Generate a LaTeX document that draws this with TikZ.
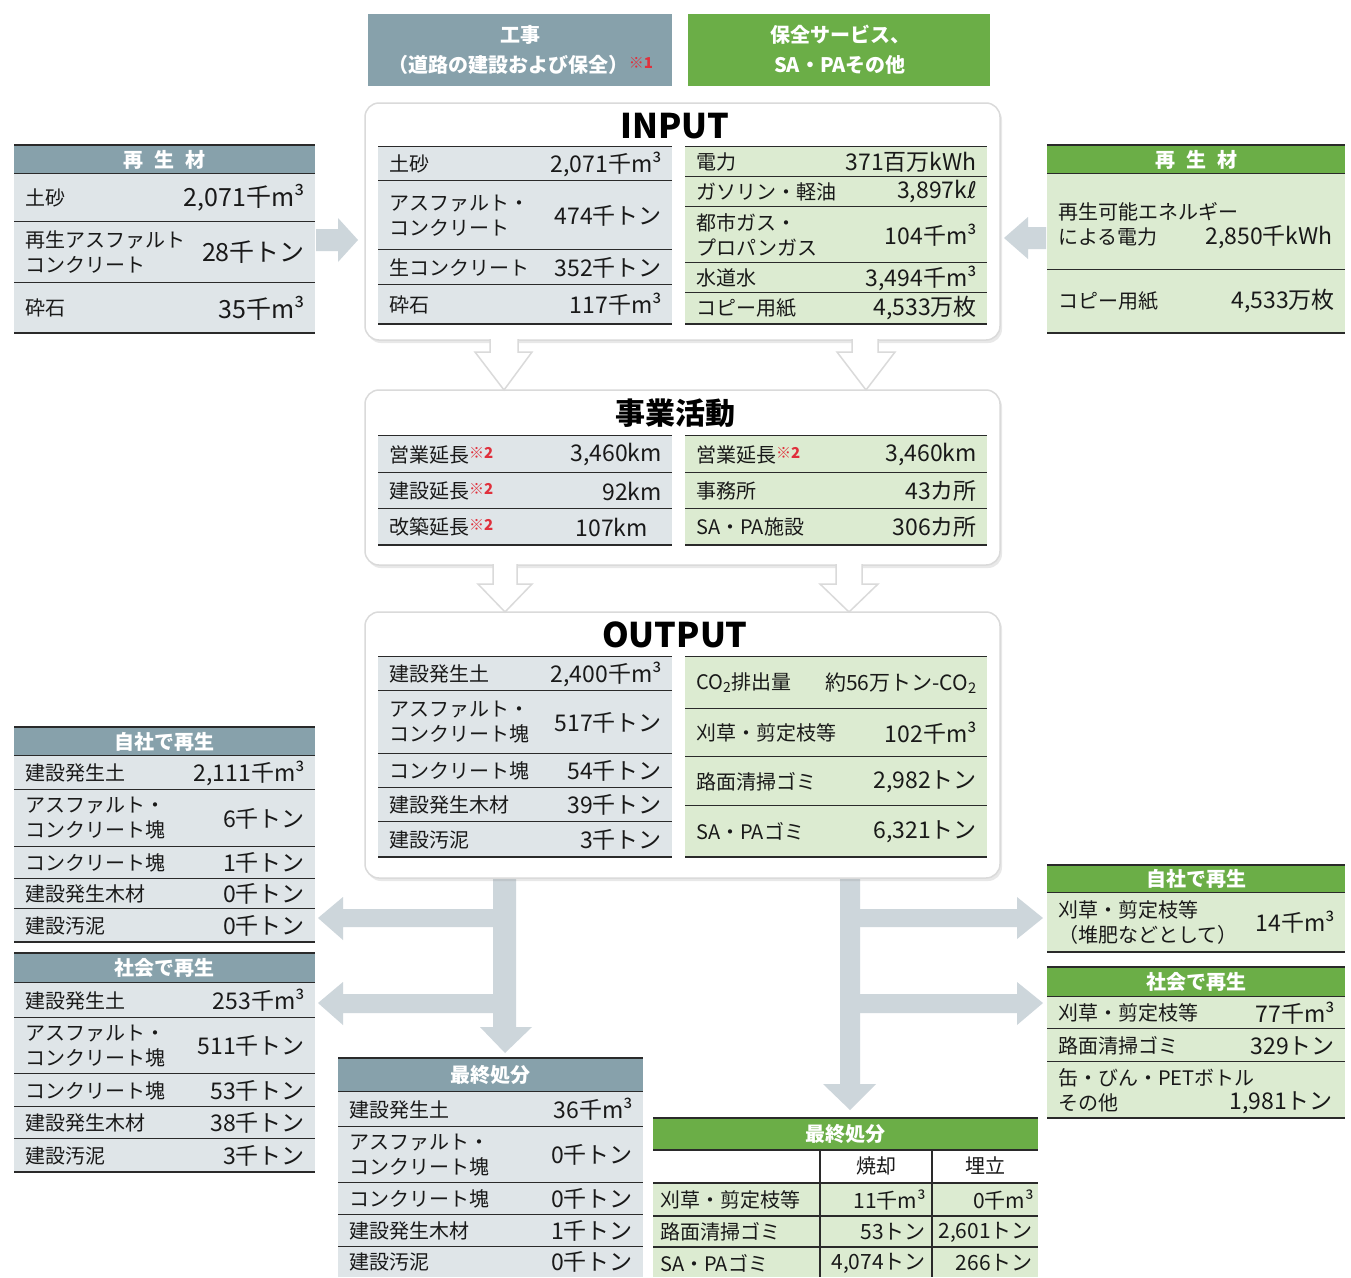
\documentclass[tikz,border=0pt]{standalone}
\usepackage{fontspec}
\setmainfont{Noto Sans CJK JP}
\newfontfamily\dvs{DejaVu Sans}
\usetikzlibrary{shadows}

\definecolor{hdrgray}{HTML}{87A1AB}
\definecolor{hdrgreen}{HTML}{6BAE47}
\definecolor{rowgray}{HTML}{DFE5E8}
\definecolor{rowgreen}{HTML}{DCEBD1}
\definecolor{arrowgray}{HTML}{CDD6DB}
\definecolor{rulec}{HTML}{2A2A2A}
\definecolor{notered}{HTML}{E0303C}
\definecolor{boxline}{HTML}{DADADA}

\tikzset{
 rule/.style={draw=rulec, line width=1.8pt},
 toprule/.style={draw=rulec, line width=2.6pt},
 lab/.style={inner sep=0pt, font=\fontsize{20}{25}\selectfont, align=left, text=black!90},
 val/.style={inner sep=0pt, font=\fontsize{23}{26}\selectfont, text=black!90},
 hdrtext/.style={inner sep=0pt, text=white, font=\fontsize{20}{24}\selectfont\bfseries},
 toptext/.style={inner sep=0pt, text=white, font=\fontsize{20}{24}\selectfont\bfseries},
 panel/.style={draw=boxline, line width=1.5pt, fill=white, rounded corners=14pt,
   drop shadow={opacity=0.18, shadow xshift=2pt, shadow yshift=-3pt}},
 title/.style={inner sep=0pt, font=\fontsize{34}{38}\selectfont\bfseries},
 blockarrow/.style={fill=arrowgray},
 hollowfill/.style={fill=white},
 hollowline/.style={draw=boxline, line width=1.5pt}
}

% name, x1, x2, y1, y2, fill, label, value
\newcommand\trow[8]{%
  \fill[#6] (#2,#4) rectangle (#3,#5);
  \draw[rule] (#2,#5) -- (#3,#5);
  \node[lab, anchor=west] (#1l) at ({#2+11},{(#4+#5)/2}) {#7};
  \node[val, anchor=east] (#1v) at ({#3-10},{(#4+#5)/2}) {#8};
}
% name, x1, x2, y1, y2, fill, text
\newcommand\hdr[7]{%
  \fill[#6] (#2,#4) rectangle (#3,#5);
  \draw[rule] (#2,#4) -- (#3,#4);
  \draw[rule] (#2,#5) -- (#3,#5);
  \node[hdrtext] (#1) at ({(#2+#3)/2},{(#4+#5)/2}) {#7};
}
\newcommand\nt[1]{\raisebox{4pt}{\color{notered}\fontsize{15}{15}\selectfont\bfseries ※#1}}
\newcommand\cub{m³}

\begin{document}
\begin{tikzpicture}[x=1pt,y=-1pt]
\useasboundingbox (0,0) rectangle (1351,1277);
\fill[white] (0,0) rectangle (1351,1277);

% ---------- gray block arrows ----------
\fill[blockarrow] (316,229) -- (338,229) -- (338,218) -- (358,240) -- (338,262) -- (338,251) -- (316,251) -- cycle;
\fill[blockarrow] (1046,227) -- (1028,227) -- (1028,217) -- (1004,238) -- (1028,259) -- (1028,249) -- (1046,249) -- cycle;

\fill[blockarrow] (493,870) -- (516,870) -- (516,1027) -- (532,1027) -- (505,1053) -- (480,1027) -- (493,1027) -- cycle;
\fill[blockarrow] (500,909) -- (343,909) -- (343,897) -- (318,918) -- (343,940) -- (343,927) -- (500,927) -- cycle;
\fill[blockarrow] (500,994) -- (343,994) -- (343,982) -- (318,1003) -- (343,1025) -- (343,1013) -- (500,1013) -- cycle;
\fill[blockarrow] (840,870) -- (860,870) -- (860,1084) -- (876,1084) -- (850,1110) -- (823,1084) -- (840,1084) -- cycle;
\fill[blockarrow] (850,909) -- (1017,909) -- (1017,897) -- (1043,918) -- (1017,939) -- (1017,927) -- (850,927) -- cycle;
\fill[blockarrow] (850,994) -- (1017,994) -- (1017,982) -- (1043,1003) -- (1017,1025) -- (1017,1013) -- (850,1013) -- cycle;

% ---------- top headers ----------
\fill[hdrgray] (368,14) rectangle (672,86);
\node[toptext] (kouji1) at (520,35) {工事};
\node[toptext] (kouji2) at (521,65) {（道路の建設および保全）\nt{1}};
\fill[hdrgreen] (688,14) rectangle (990,86);
\node[toptext] (hozen1) at (840,35) {保全サービス、};
\node[toptext] (hozen2) at (840,65) {SA・PAその他};

% ---------- panels ----------
\path[panel] (365,103) rectangle (1000,340);
\path[panel] (365,390) rectangle (1000,565);
\path[panel] (365,612) rectangle (1000,878);

% ---------- hollow arrows ----------
\fill[hollowfill] (490,330) -- (490,352) -- (475,352) -- (504,390) -- (532,352) -- (518,352) -- (518,330) -- cycle;
\draw[hollowline] (490,339) -- (490,352) -- (475,352) -- (504,390) -- (532,352) -- (518,352) -- (518,339);
\fill[hollowfill] (852,330) -- (852,352) -- (837,352) -- (866,390) -- (895,352) -- (878,352) -- (878,330) -- cycle;
\draw[hollowline] (852,339) -- (852,352) -- (837,352) -- (866,390) -- (895,352) -- (878,352) -- (878,339);
\fill[hollowfill] (493,555) -- (493,584) -- (478,584) -- (505,612) -- (532,584) -- (517,584) -- (517,555) -- cycle;
\draw[hollowline] (493,564) -- (493,584) -- (478,584) -- (505,612) -- (532,584) -- (517,584) -- (517,564);
\fill[hollowfill] (836,555) -- (836,584) -- (820,584) -- (849,612) -- (878,584) -- (862,584) -- (862,555) -- cycle;
\draw[hollowline] (836,564) -- (836,584) -- (820,584) -- (849,612) -- (878,584) -- (862,584) -- (862,564);

% ---------- INPUT ----------
\node[title] (inputT) at (675,126) {INPUT};
\draw[toprule] (378,147) -- (672,147);
\trow{ia}{378}{672}{147}{181}{rowgray}{土砂}{2,071千\cub}
\trow{ib}{378}{672}{181}{250}{rowgray}{アスファルト・\\コンクリート}{474千トン}
\trow{ic}{378}{672}{250}{285}{rowgray}{生コンクリート}{352千トン}
\trow{id}{378}{672}{285}{324}{rowgray}{砕石}{117千\cub}
\draw[toprule] (685,147) -- (987,147);
\trow{ja}{685}{987}{147}{177}{rowgreen}{電力}{371百万kWh}
\trow{jb}{685}{987}{177}{207}{rowgreen}{ガソリン・軽油}{3,897k{\dvs ℓ}}
\trow{jc}{685}{987}{207}{263}{rowgreen}{都市ガス・\\プロパンガス}{104千\cub}
\trow{jd}{685}{987}{263}{293}{rowgreen}{水道水}{3,494千\cub}
\trow{je}{685}{987}{293}{324}{rowgreen}{コピー用紙}{4,533万枚}

% ---------- left 再生材 ----------
\begin{scope}[val/.append style={font=\fontsize{25}{28}\selectfont}]
\hdr{lsH}{14}{315}{145}{174}{hdrgray}{再\hspace{11pt}生\hspace{11pt}材}
\trow{la}{14}{315}{174}{222}{rowgray}{土砂}{2,071千\cub}
\trow{lb}{14}{315}{222}{283}{rowgray}{再生アスファルト\\コンクリート}{28千トン}
\trow{lc}{14}{315}{283}{333}{rowgray}{砕石}{35千\cub}
\end{scope}

% ---------- right 再生材 ----------
\hdr{rsH}{1047}{1345}{145}{174}{hdrgreen}{再\hspace{11pt}生\hspace{11pt}材}
\fill[rowgreen] (1047,174) rectangle (1345,270);
\draw[rule] (1047,270) -- (1345,270);
\node[lab, anchor=west] (raL) at (1058,224) {再生可能エネルギー\\による電力};
\node[val, anchor=east] (raV) at (1333,237) {2,850千kWh};
\trow{rb}{1047}{1345}{270}{333}{rowgreen}{コピー用紙}{4,533万枚}

% ---------- 事業活動 ----------
\node[title, font=\fontsize{30}{34}\selectfont\bfseries] (bizT) at (675,413) {事業活動};
\draw[toprule] (378,436) -- (672,436);
\trow{ba}{378}{672}{436}{473}{rowgray}{営業延長\nt{2}}{3,460km}
\trow{bb}{378}{672}{473}{509}{rowgray}{建設延長\nt{2}}{92km}
\fill[rowgray] (378,509) rectangle (672,545);
\draw[rule] (378,545) -- (672,545);
\node[lab, anchor=west] (bcl) at (389,527) {改築延長\nt{2}};
\node[val, anchor=east] (bcv) at (648,527) {107km};
\draw[toprule] (685,436) -- (987,436);
\trow{ca}{685}{987}{436}{473}{rowgreen}{営業延長\nt{2}}{3,460km}
\trow{cb}{685}{987}{473}{509}{rowgreen}{事務所}{43カ所}
\trow{cc}{685}{987}{509}{545}{rowgreen}{SA・PA施設}{306カ所}

% ---------- OUTPUT ----------
\node[title] (outT) at (675,635) {OUTPUT};
\draw[toprule] (378,657) -- (672,657);
\trow{oa}{378}{672}{657}{691}{rowgray}{建設発生土}{2,400千\cub}
\trow{ob}{378}{672}{691}{754}{rowgray}{アスファルト・\\コンクリート塊}{517千トン}
\trow{oc}{378}{672}{754}{788}{rowgray}{コンクリート塊}{54千トン}
\trow{od}{378}{672}{788}{822}{rowgray}{建設発生木材}{39千トン}
\trow{oe}{378}{672}{822}{857}{rowgray}{建設汚泥}{3千トン}
\draw[toprule] (685,657) -- (987,657);
\begin{scope}[val/.append style={font=\fontsize{21}{24}\selectfont}]
\trow{pa}{685}{987}{657}{709}{rowgreen}{CO\textsubscript{2}排出量}{約56万トン-CO\textsubscript{2}}
\end{scope}
\trow{pb}{685}{987}{709}{757}{rowgreen}{刈草・剪定枝等}{102千\cub}
\trow{pc}{685}{987}{757}{806}{rowgreen}{路面清掃ゴミ}{2,982トン}
\trow{pd}{685}{987}{806}{857}{rowgreen}{SA・PAゴミ}{6,321トン}

% ---------- left 自社で再生 ----------
\hdr{jsH}{14}{315}{727}{756}{hdrgray}{自社で再生}
\trow{sa}{14}{315}{756}{790}{rowgray}{建設発生土}{2,111千\cub}
\trow{sb}{14}{315}{790}{847}{rowgray}{アスファルト・\\コンクリート塊}{6千トン}
\trow{sc}{14}{315}{847}{879}{rowgray}{コンクリート塊}{1千トン}
\trow{sd}{14}{315}{879}{909}{rowgray}{建設発生木材}{0千トン}
\trow{se}{14}{315}{909}{942}{rowgray}{建設汚泥}{0千トン}

% ---------- left 社会で再生 ----------
\hdr{ksH}{14}{315}{953}{983}{hdrgray}{社会で再生}
\trow{ta}{14}{315}{983}{1018}{rowgray}{建設発生土}{253千\cub}
\trow{tb}{14}{315}{1018}{1074}{rowgray}{アスファルト・\\コンクリート塊}{511千トン}
\trow{tc}{14}{315}{1074}{1107}{rowgray}{コンクリート塊}{53千トン}
\trow{td}{14}{315}{1107}{1139}{rowgray}{建設発生木材}{38千トン}
\trow{te}{14}{315}{1139}{1172}{rowgray}{建設汚泥}{3千トン}

% ---------- gray 最終処分 ----------
\hdr{fgH}{338}{643}{1058}{1092}{hdrgray}{最終処分}
\trow{fa}{338}{643}{1092}{1127}{rowgray}{建設発生土}{36千\cub}
\trow{fb}{338}{643}{1127}{1183}{rowgray}{アスファルト・\\コンクリート塊}{0千トン}
\trow{fc}{338}{643}{1183}{1215}{rowgray}{コンクリート塊}{0千トン}
\trow{fd}{338}{643}{1215}{1247}{rowgray}{建設発生木材}{1千トン}
\fill[rowgray] (338,1247) rectangle (643,1277);
\node[lab, anchor=west] (fel) at (349,1262) {建設汚泥};
\node[val, anchor=east] (fev) at (633,1262) {0千トン};

% ---------- green 最終処分 ----------
\begin{scope}[val/.append style={font=\fontsize{21}{24}\selectfont}]
\hdr{fhH}{653}{1038}{1118}{1150}{hdrgreen}{最終処分}
\draw[rule] (653,1183) -- (1038,1183);
\node[lab] (gh1) at (876,1166) {焼却};
\node[lab] (gh2) at (985,1166) {埋立};
\fill[rowgreen] (653,1184) rectangle (1038,1277);
\draw[rule] (653,1216) -- (1038,1216);
\draw[rule] (653,1247) -- (1038,1247);
\draw[rule] (820,1150) -- (820,1277);
\draw[rule] (932,1150) -- (932,1277);
\node[lab, anchor=west] (g1l) at (660,1200) {刈草・剪定枝等};
\node[val, anchor=east] (g1a) at (926,1200) {11千\cub};
\node[val, anchor=east] (g1b) at (1034,1200) {0千\cub};
\node[lab, anchor=west] (g2l) at (660,1232) {路面清掃ゴミ};
\node[val, anchor=east] (g2a) at (926,1232) {53トン};
\node[val, anchor=east] (g2b) at (1033,1232) {2,601トン};
\node[lab, anchor=west] (g3l) at (660,1263) {SA・PAゴミ};
\node[val, anchor=east] (g3a) at (926,1263) {4,074トン};
\node[val, anchor=east] (g3b) at (1033,1263) {266トン};
\end{scope}

% ---------- right 自社で再生 ----------
\hdr{rjH}{1047}{1345}{865}{893}{hdrgreen}{自社で再生}
\trow{ua}{1047}{1345}{893}{952}{rowgreen}{刈草・剪定枝等\\（堆肥などとして）}{14千\cub}

% ---------- right 社会で再生 ----------
\hdr{rkH}{1047}{1345}{967}{997}{hdrgreen}{社会で再生}
\trow{va}{1047}{1345}{997}{1029}{rowgreen}{刈草・剪定枝等}{77千\cub}
\trow{vb}{1047}{1345}{1029}{1062}{rowgreen}{路面清掃ゴミ}{329トン}
\fill[rowgreen] (1047,1062) rectangle (1345,1118);
\draw[rule] (1047,1118) -- (1345,1118);
\node[lab, anchor=west] (vcl) at (1058,1090) {缶・びん・PETボトル\\その他};
\node[val, anchor=east] (vcv) at (1333,1103) {1,981トン};
\end{tikzpicture}
\end{document}
